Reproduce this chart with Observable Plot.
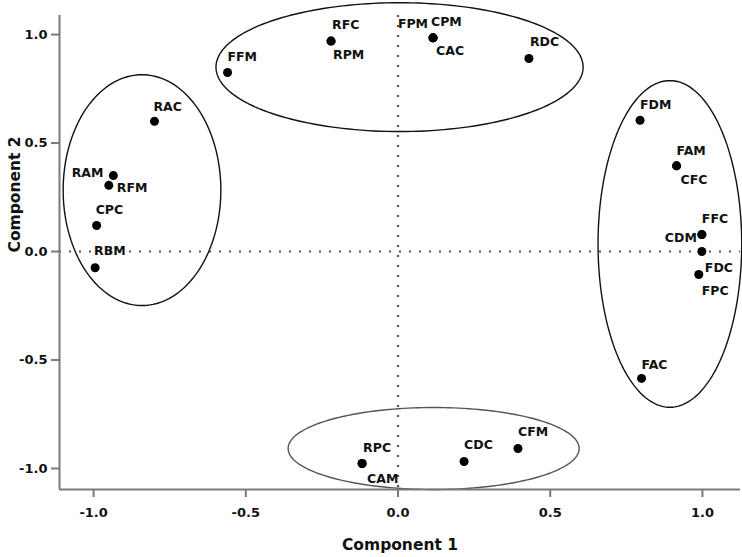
<!DOCTYPE html>
<html><head><meta charset="utf-8">
<script src="https://cdn.jsdelivr.net/npm/d3@7"></script>
<script src="https://cdn.jsdelivr.net/npm/@observablehq/plot@0.6"></script>
<style>body{margin:0;background:#fff}</style>
</head><body><div id="chart"></div>
<script>
// Variable labels and their loadings on the two components
const labels = ["RFC","RPM","FPM","CPM","CAC","RDC","FFM","RAC","RAM","RFM","CPC","RBM",
                "FDM","FAM","CFC","FFC","CDM","FDC","FPC","FAC","RPC","CAM","CDC","CFM"];
const comp1 = [-0.22,-0.22,0.115,0.115,0.115,0.43,-0.56,-0.80,-0.935,-0.95,-0.99,-0.995,
               0.795,0.915,0.915,0.998,0.998,0.998,0.988,0.80,-0.118,-0.118,0.217,0.394];
const comp2 = [0.97,0.97,0.985,0.985,0.985,0.89,0.825,0.60,0.35,0.305,0.12,-0.075,
               0.605,0.395,0.395,0.078,0.078,0.0,-0.106,-0.585,-0.977,-0.977,-0.968,-0.908];
const xTicks = [-1.0,-0.5,0.0,0.5,1.0];
const yTicks = [-1.0,-0.5,0.0,0.5,1.0];
const xTitle = "Component 1";
const yTitle = "Component 2";
// Cluster ellipses (centre and radii in component units)
const ellipseCx = [0.005,-0.841,0.893,0.117];
const ellipseCy = [0.850,0.283,0.035,-0.908];
const ellipseRx = [0.603,0.259,0.236,0.478];
const ellipseRy = [0.297,0.532,0.753,0.189];
const ellipseColor = ["#111","#111","#111","#555"];

// label placement relative to its point (pixels)
const place = {
  RFC:[1,-16,"start"], RPM:[2,14,"start"], FPM:[-5,-14,"end"], CPM:[-2,-16,"start"],
  CAC:[3,13,"start"], RDC:[1,-16,"start"], FFM:[0,-16,"start"], RAC:[-1,-14,"start"],
  RAM:[-10,-3,"end"], RFM:[8,3,"start"], CPC:[-1,-15,"start"], RBM:[-1,-17,"start"],
  FDM:[0,-15,"start"], FAM:[0,-15,"start"], CFC:[4,14,"start"], FFC:[0,-16,"start"],
  CDM:[-5,3,"end"], FDC:[3,16,"start"], FPC:[3,16,"start"], FAC:[0,-13,"start"],
  RPC:[1,-15,"start"], CAM:[5,16,"start"], CDC:[0,-17,"start"], CFM:[0,-16,"start"]
};

const pts = labels.map((l,i)=>({label:l, x:comp1[i], y:comp2[i]}));
const ell = [];
ellipseCx.forEach((cx,k)=>{
  for(let j=0;j<=180;j++){
    const t = j/180*2*Math.PI;
    ell.push({k, x: cx+ellipseRx[k]*Math.cos(t), y: ellipseCy[k]+ellipseRy[k]*Math.sin(t)});
  }
});

const xDom = [-1.112, 1.125], yDom = [-1.097, 1.088];
const fmt = d => d.toFixed(1);
const axisColor = "#7a7a7a";

const labelMarks = pts.map(p => {
  const [dx,dy,anchor] = place[p.label];
  return Plot.text([p], {x:"x", y:"y", text:"label", dx, dy, textAnchor:anchor,
    fontSize:12.5, fontWeight:"bold", fill:"#111"});
});

const chart = Plot.plot({
  width: 742, height: 557,
  marginLeft: 59, marginRight: 2, marginTop: 15, marginBottom: 68,
  style: {fontFamily: "'DejaVu Sans', sans-serif", background: "#fff", color: "#111"},
  x: {domain: xDom},
  y: {domain: yDom},
  marks: [
    Plot.ruleX([0], {stroke:"#555", strokeWidth:2.2, strokeDasharray:"2,8"}),
    Plot.ruleY([0], {stroke:"#555", strokeWidth:2.2, strokeDasharray:"2,8"}),
    Plot.line(ell, {x:"x", y:"y", z:"k", stroke: d => ellipseColor[d.k], strokeWidth:1.4, curve:"linear"}),
    Plot.dot(pts, {x:"x", y:"y", r:4.5, fill:"#000"}),
    ...labelMarks,
    Plot.ruleY([yDom[0]], {stroke:axisColor, strokeWidth:2}),
    Plot.ruleX([xDom[0]], {stroke:axisColor, strokeWidth:2}),
    Plot.axisX(xTicks, {tickSize:8, tickPadding:10, tickFormat:fmt, stroke:axisColor, strokeWidth:2,
      fontSize:13, fontWeight:"bold", label:null, fill:"#111"}),
    Plot.axisY(yTicks, {tickSize:8, tickPadding:4, tickFormat:fmt, stroke:axisColor, strokeWidth:2,
      fontSize:13, fontWeight:"bold", label:null, fill:"#111"}),
    Plot.text([xTitle], {frameAnchor:"bottom", dy:60, fontSize:15.5, fontWeight:"bold", fill:"#111"}),
    Plot.text([yTitle], {frameAnchor:"left", dx:-44, rotate:-90, fontSize:15.5, fontWeight:"bold", fill:"#111"})
  ]
});
document.getElementById("chart").appendChild(chart);
</script>
</body></html>
